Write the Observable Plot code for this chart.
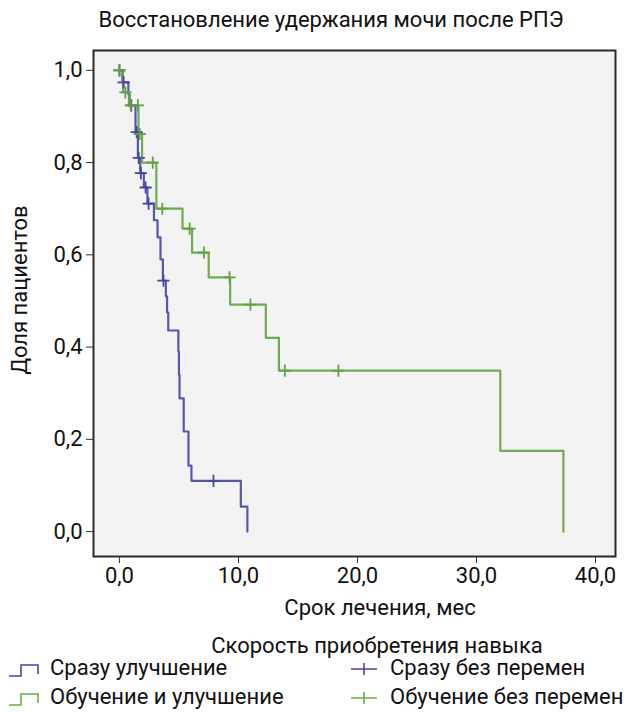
<!DOCTYPE html>
<html><head><meta charset="utf-8">
<script src="https://cdn.jsdelivr.net/npm/d3@7"></script>
<script src="https://cdn.jsdelivr.net/npm/@observablehq/plot@0.6"></script>
<style>
body{margin:0;background:#fff;font-family:Roboto,sans-serif;color:#111;}
#wrap{position:relative;width:630px;height:713px;overflow:hidden;}
.t{position:absolute;white-space:nowrap;font-size:22px;line-height:20px;}
#chart{position:absolute;left:0;top:38px;}
</style></head><body><div id="wrap"><div id="chart"></div></div>
<script>
const title = "Восстановление удержания мочи после РПЭ";
const xLabel = "Срок лечения, мес";
const yLabel = "Доля пациентов";
const legendTitle = "Скорость приобретения навыка";
const groups = ["Сразу улучшение", "Обучение и улучшение"];
const censorNames = ["Сразу без перемен", "Обучение без перемен"];
const lineColors = ["#4646a6", "#63a243"];
const legendColors = ["#5a3ca2", "#66b042"];
const xTicks = [0, 10, 20, 30, 40];
const yTicks = [0, 0.2, 0.4, 0.6, 0.8, 1.0];

// Group 1: "Сразу улучшение" (step times and proportion after each step)
const blueTime = [0, 0.25, 0.75, 0.85, 1.35, 1.55, 1.75, 2.05, 2.35, 2.9, 3.2, 3.45, 3.65, 3.9, 4.0, 4.1, 4.95, 5.0, 5.05, 5.4, 5.8, 6.05, 10.2, 10.75];
const blueSurv = [1.0, 0.974, 0.948, 0.924, 0.866, 0.81, 0.777, 0.746, 0.711, 0.675, 0.638, 0.59, 0.544, 0.51, 0.475, 0.436, 0.39, 0.34, 0.289, 0.217, 0.143, 0.11, 0.054, 0];
const blueCensTime = [0, 0.35, 1.0, 1.45, 1.62, 1.8, 2.2, 2.45, 3.7, 7.9];
const blueCensSurv = [1.0, 0.974, 0.924, 0.866, 0.81, 0.777, 0.746, 0.711, 0.544, 0.11];

// Group 2: "Обучение и улучшение"
const greenTime = [0, 0.3, 0.8, 1.6, 1.9, 3.1, 5.3, 6.1, 7.5, 9.3, 12.3, 13.4, 32.0, 37.3];
const greenSurv = [1.0, 0.952, 0.924, 0.862, 0.80, 0.70, 0.657, 0.605, 0.551, 0.492, 0.42, 0.349, 0.175, 0];
const greenCensTime = [0, 0.5, 0.95, 1.55, 1.7, 2.8, 3.6, 5.9, 7.1, 9.25, 11.0, 13.9, 18.4];
const greenCensSurv = [1.0, 0.952, 0.924, 0.924, 0.862, 0.80, 0.70, 0.657, 0.605, 0.551, 0.492, 0.349, 0.349];

const steps = [
  ...blueTime.map((t, i) => ({t, s: blueSurv[i], g: groups[0]})),
  ...greenTime.map((t, i) => ({t, s: greenSurv[i], g: groups[1]}))
];
const cens = [
  ...blueCensTime.map((t, i) => ({t, s: blueCensSurv[i], g: groups[0]})),
  ...greenCensTime.map((t, i) => ({t, s: greenCensSurv[i], g: groups[1]}))
];
const fmt = d => d.toFixed(1).replace(".", ",");

const plot = Plot.plot({
  width: 630, height: 546,
  marginTop: 12, marginBottom: 28, marginLeft: 93, marginRight: 15,
  style: {fontFamily: "Roboto, sans-serif", fontSize: "22px", color: "#111", background: "transparent", overflow: "visible"},
  x: {domain: [-2.18, 41.68], label: null},
  y: {domain: [-0.054, 1.043], label: null},
  color: {domain: groups, range: lineColors},
  marks: [
    Plot.frame({fill: "#f3f3f3"}),
    Plot.line(steps, {x: "t", y: "s", z: "g", stroke: "g", curve: "step-after", strokeWidth: 2.2, strokeOpacity: 0.9}),
    Plot.dot(cens, {x: "t", y: "s", stroke: "g", symbol: "plus", r: 4, strokeWidth: 1.8}),
    Plot.frame({stroke: "#2a2a2a", strokeWidth: 2}),
    Plot.axisX({ticks: xTicks, tickFormat: fmt, tickSize: 7, tickPadding: 4, label: null, stroke: "#333"}),
    Plot.axisY({ticks: yTicks, tickFormat: fmt, tickSize: 7, tickPadding: 4, label: null, stroke: "#333"})
  ]
});
document.getElementById("chart").appendChild(plot);

const wrap = document.getElementById("wrap");
function addText(txt, css) {
  const d = document.createElement("div");
  d.className = "t"; d.textContent = txt;
  Object.assign(d.style, css);
  wrap.appendChild(d);
  return d;
}
addText(title, {left: "0px", width: "662px", textAlign: "center", top: "10px"});
addText(xLabel, {left: "0px", width: "760px", textAlign: "center", top: "598px"});
addText(legendTitle, {left: "0px", width: "754px", textAlign: "center", top: "636px"});
addText(yLabel, {left: "20px", top: "290px", transform: "translate(-50%,-50%) rotate(-90deg)"});

const rows = [658, 687];
groups.forEach((g, i) => {
  const y = rows[i];
  const s1 = document.createElementNS("http://www.w3.org/2000/svg", "svg");
  s1.setAttribute("width", 34); s1.setAttribute("height", 16);
  s1.style.position = "absolute"; s1.style.left = "8px"; s1.style.top = (y + 4) + "px";
  s1.innerHTML = `<path d="M1,14 H13 V3 H30 V12" fill="none" stroke="${legendColors[i]}" stroke-width="1.6"/>`;
  wrap.appendChild(s1);
  addText(g, {left: "50px", top: y + "px"});
  const s2 = document.createElementNS("http://www.w3.org/2000/svg", "svg");
  s2.setAttribute("width", 28); s2.setAttribute("height", 16);
  s2.style.position = "absolute"; s2.style.left = "350px"; s2.style.top = (y + 3) + "px";
  s2.innerHTML = `<path d="M1,8 H27 M14,2 V14" fill="none" stroke="${legendColors[i]}" stroke-width="1.6"/>`;
  wrap.appendChild(s2);
  addText(censorNames[i], {left: "390px", top: y + "px"});
});
</script>
</body></html>
